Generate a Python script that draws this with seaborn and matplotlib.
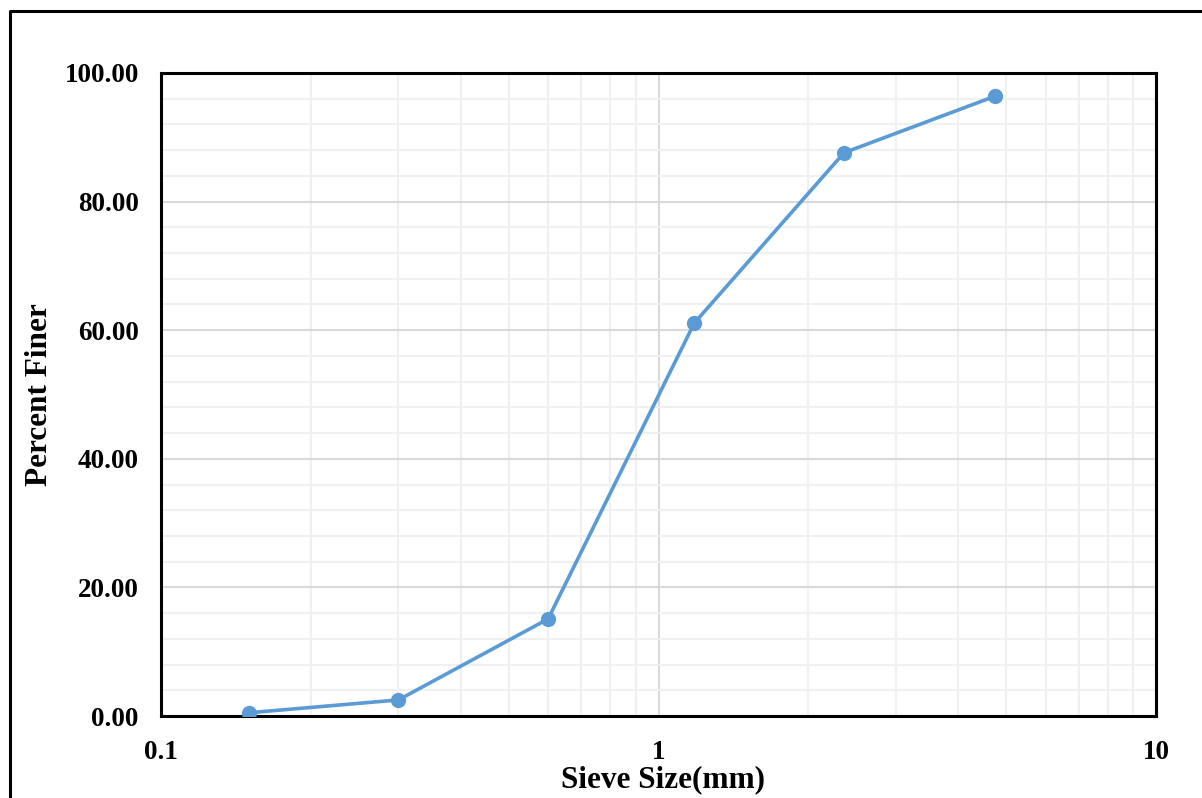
import matplotlib
matplotlib.use("Agg")
import matplotlib.pyplot as plt
from matplotlib.lines import Line2D
from matplotlib.ticker import FixedLocator, FuncFormatter, NullFormatter
import seaborn as sns
import pandas as pd

# Sieve analysis results
sieve_size_mm = [0.15, 0.3, 0.6, 1.18, 2.36, 4.75]
percent_finer = [0.5, 2.5, 15.1, 61.1, 87.6, 96.4]

x_ticks = [0.1, 1, 10]
x_tick_labels = ["0.1", "1", "10"]
y_ticks = [0, 20, 40, 60, 80, 100]

df = pd.DataFrame({"Sieve Size(mm)": sieve_size_mm, "Percent Finer": percent_finer})

sns.set_theme(style="white")
plt.rcParams["font.family"] = ["Liberation Serif", "DejaVu Serif"]
plt.rcParams["font.weight"] = "bold"
plt.rcParams["text.color"] = "black"
plt.rcParams["axes.labelcolor"] = "black"
plt.rcParams["xtick.color"] = "black"
plt.rcParams["ytick.color"] = "black"

fig = plt.figure(figsize=(12.02, 7.98), dpi=100)
ax = fig.add_axes([161 / 1202, 82 / 798, 995 / 1202, 643 / 798])

line_color = "#5B9BD5"
sns.lineplot(data=df, x="Sieve Size(mm)", y="Percent Finer", ax=ax,
             color=line_color, linewidth=2.6, marker="o", markersize=11,
             markeredgewidth=0, zorder=5)

ax.set_xscale("log")
ax.set_xlim(0.1, 10)
ax.set_ylim(0, 100)

# Major / minor ticks and grid
ax.xaxis.set_major_locator(FixedLocator(x_ticks))
ax.xaxis.set_major_formatter(FuncFormatter(lambda v, p: x_tick_labels[x_ticks.index(v)] if v in x_ticks else ""))
minor_x = [m * d for d in (0.1, 1) for m in range(2, 10)]
ax.xaxis.set_minor_locator(FixedLocator(minor_x))
ax.xaxis.set_minor_formatter(NullFormatter())

ax.yaxis.set_major_locator(FixedLocator(y_ticks))
ax.yaxis.set_major_formatter(FuncFormatter(lambda v, p: f"{v:.2f}"))
ax.yaxis.set_minor_locator(FixedLocator([v for v in range(0, 101, 4) if v % 20 != 0]))

ax.grid(which="major", color="#d9d9d9", linewidth=1.5)
ax.grid(which="minor", color="#f0f0f0", linewidth=1.5)
ax.set_axisbelow(True)

ax.tick_params(axis="both", which="both", length=0, colors="black")
ax.tick_params(axis="y", pad=16, labelsize=19.5)
ax.tick_params(axis="x", pad=17, labelsize=19.5)
for lbl in ax.get_xticklabels() + ax.get_yticklabels():
    lbl.set_fontweight("bold")
    lbl.set_color("black")

for s in ax.spines.values():
    s.set_visible(True)
    s.set_color("black")
    s.set_linewidth(2.2)

ax.set_xlabel("Sieve Size(mm)", fontsize=22.5, fontweight="bold", color="black")
ax.set_ylabel("Percent Finer", fontsize=22.5, fontweight="bold", color="black")
ax.xaxis.set_label_coords(0.5045, -0.076)
ax.yaxis.set_label_coords(-0.108, 0.5)

# Frame around the chart area (left and top edges)
fx = 10 / 1202
fy = 1 - 11 / 798
fig.add_artist(Line2D([fx, fx, 1.0], [0.0, fy, fy], transform=fig.transFigure,
                      color="black", linewidth=2.2))

fig.savefig("out.png", dpi=100, facecolor="white")
